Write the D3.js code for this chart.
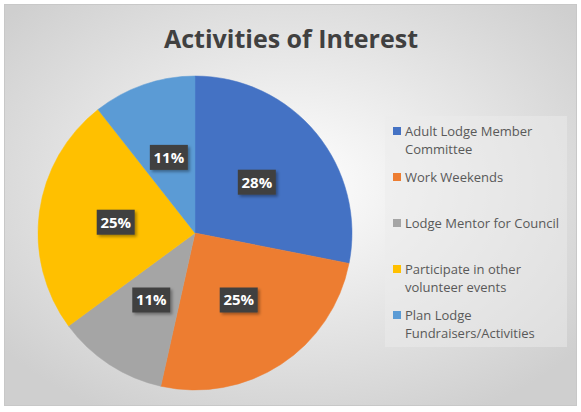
<!DOCTYPE html>
<html>
<head>
<meta charset="utf-8">
<script src="https://cdn.jsdelivr.net/npm/d3@7"></script>
<style>
  body { margin: 0; background: #fff; }
  text { font-family: "Open Sans", Lato, sans-serif; }
</style>
</head>
<body>
<svg id="chart" width="581" height="412"></svg>
<script>
// chart data
var categories = ["Adult Lodge Member Committee", "Work Weekends", "Lodge Mentor for Council",
  "Participate in other volunteer events", "Plan Lodge Fundraisers/Activities"];
var shares = [28.1, 25.4, 11.4, 24.5, 10.6];
var colors = ["#4472C4", "#ED7D31", "#A5A5A5", "#FFC000", "#5B9BD5"];
var title = "Activities of Interest";

var svg = d3.select("#chart"),
  width = +svg.attr("width"),
  height = +svg.attr("height");

var defs = svg.append("defs");
var grad = defs.append("radialGradient").attr("id", "bg")
  .attr("cx", "50%").attr("cy", "45%").attr("r", "65%");
grad.append("stop").attr("offset", "0%").attr("stop-color", "#ffffff");
grad.append("stop").attr("offset", "100%").attr("stop-color", "#cfcfcf");

var shadow = defs.append("filter").attr("id", "shadow")
  .attr("x", "-30%").attr("y", "-30%").attr("width", "160%").attr("height", "160%");
shadow.append("feDropShadow").attr("dx", 2).attr("dy", 2).attr("stdDeviation", 1.5)
  .attr("flood-color", "#000").attr("flood-opacity", 0.35);

// background
svg.append("rect").attr("x", 4.5).attr("y", 4.5).attr("width", 572).attr("height", 401)
  .attr("fill", "url(#bg)").attr("stroke", "#c8c8c8");

svg.append("text").attr("id", "title").attr("x", 291).attr("y", 48).attr("text-anchor", "middle")
  .attr("font-size", 25).attr("font-weight", "bold").attr("fill", "#404040")
  .text(title);

// pie
var cx = 195, cy = 233, radius = 157;
var pie = d3.pie().sort(null).value(function(d) { return d; });
var arc = d3.arc().innerRadius(0).outerRadius(radius);
var labelArc = d3.arc().innerRadius(80).outerRadius(80);
var arcs = pie(shares);

var g = svg.append("g").attr("transform", "translate(" + cx + "," + cy + ")");
g.selectAll("path").data(arcs).enter().append("path")
  .attr("d", arc)
  .attr("fill", function(d, i) { return colors[i]; })
  .attr("stroke", function(d, i) { return colors[i]; })
  .attr("stroke-width", 0.5);

var labels = g.selectAll(".lbl").data(arcs).enter().append("g")
  .attr("class", "lbl")
  .attr("transform", function(d) { return "translate(" + labelArc.centroid(d) + ")"; });
labels.append("rect").attr("x", -19).attr("y", -12.5).attr("width", 38).attr("height", 25)
  .attr("fill", "#404040").attr("filter", "url(#shadow)");
labels.append("text").attr("text-anchor", "middle").attr("dy", "0.36em")
  .attr("font-size", 15).attr("font-weight", "bold").attr("fill", "#fff")
  .text(function(d) { return Math.round(d.value) + "%"; });

// legend
var legend = svg.append("g");
legend.append("rect").attr("x", 385).attr("y", 116).attr("width", 182).attr("height", 231)
  .attr("fill", "#ececec").attr("fill-opacity", 0.5);

var items = legend.selectAll(".item").data(categories).enter().append("g")
  .attr("class", "item")
  .attr("transform", function(d, i) { return "translate(393," + (131 + i * 46) + ")"; });
items.append("rect").attr("x", 0).attr("y", -4).attr("width", 8).attr("height", 8)
  .attr("fill", function(d, i) { return colors[i]; });
items.append("text").attr("x", 12).attr("y", 4.5)
  .attr("font-size", 13).attr("fill", "#595959")
  .each(function(d) {
    // wrap legend text to the box width
    var t = d3.select(this), words = d.split(" "), line = [];
    var span = t.append("tspan").attr("x", 12).attr("dy", 0);
    words.forEach(function(w) {
      line.push(w);
      span.text(line.join(" "));
      if (span.node().getComputedTextLength() > 160 && line.length > 1) {
        line.pop();
        span.text(line.join(" "));
        line = [w];
        span = t.append("tspan").attr("x", 12).attr("dy", 18).text(w);
      }
    });
  });
</script>
</body>
</html>
